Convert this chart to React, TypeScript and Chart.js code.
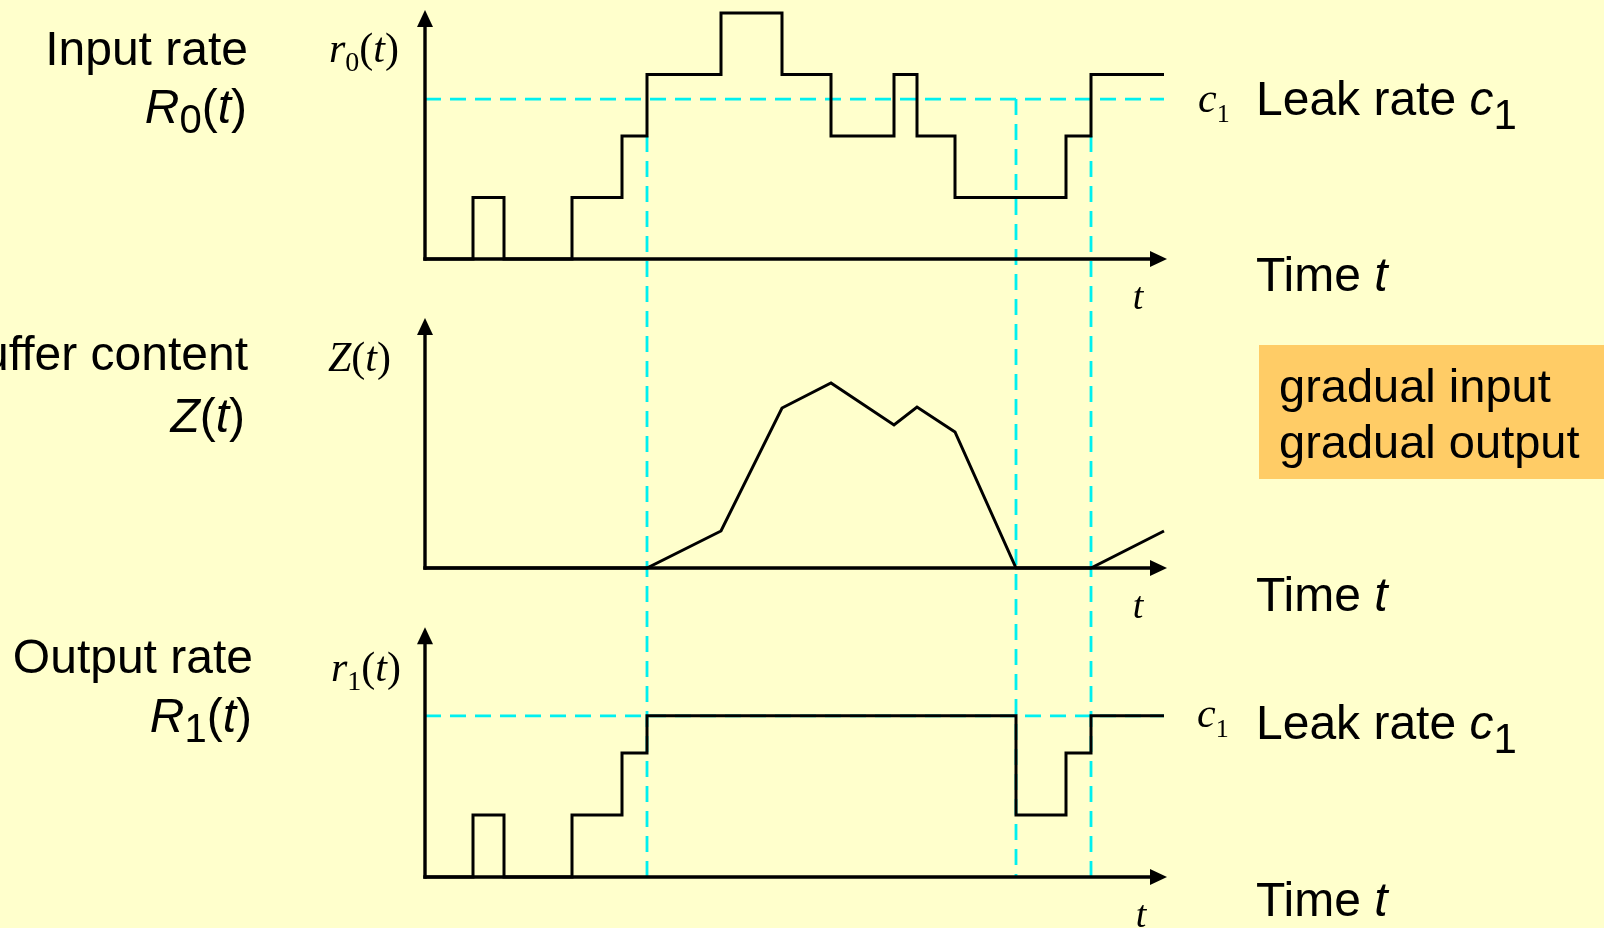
import React, { useEffect, useRef } from 'react';
import { Chart, registerables } from 'chart.js';

Chart.register(...registerables);

// ---------- data (time in t-units, rates in "levels") ----------
const r0Times = [0, 4.8, 7.9, 14.7, 19.7, 22.2, 29.6, 35.7, 40.6, 46.9, 49.2, 53.0, 64.1, 66.6, 73.9];
const r0Levels = [0, 1, 0, 1, 2, 3, 4, 3, 2, 3, 2, 1, 2, 3, 3];

const zTimes = [0, 22.2, 29.6, 35.7, 40.6, 46.9, 49.2, 53.0, 59.1, 66.6, 73.9];
const zValues = [0, 0, 3.7, 16.0, 18.5, 14.3, 16.1, 13.6, 0, 0, 3.7];

const r1Times = [0, 4.8, 7.9, 14.7, 19.7, 22.2, 59.1, 64.1, 66.6, 73.9];
const r1Levels = [0, 1, 0, 1, 2, 2.6, 1, 2, 2.6, 2.6];

const leakRate = 2.6;
const leakTimes = [0, 73.9];

const markerTimes = [22.2, 59.1, 66.6];
const markerFromLevel = [2, 2.6, 2];

const axisEndT = 74.2;
const axisTops = { y0: 4.05, yz: 25, y1: 4.03 };

// ---------- text ----------
const leftLabels = ['Input rate', 'Buffer content', 'Output rate'];
const timeLabel = 'Time ';
const leakLabel = 'Leak rate ';
const boxLines = ['gradual input', 'gradual output'];

const SANS = '"Liberation Sans", Arial, sans-serif';
const SERIF = '"Liberation Serif", "Times New Roman", serif';
const CYAN = '#00F0F0';
const BG = '#FFFFCC';

type Run = { text: string; font: string; dy?: number };

function drawRuns(ctx: CanvasRenderingContext2D, runs: Run[], x: number, y: number, align: 'left' | 'right' | 'center') {
  ctx.textBaseline = 'alphabetic';
  ctx.textAlign = 'left';
  let w = 0;
  runs.forEach((r) => {
    ctx.font = r.font;
    w += ctx.measureText(r.text).width;
  });
  let cx = align === 'left' ? x : align === 'right' ? x - w : x - w / 2;
  runs.forEach((r) => {
    ctx.font = r.font;
    ctx.fillText(r.text, cx, y + (r.dy || 0));
    cx += ctx.measureText(r.text).width;
  });
}

const sans = (size: number, italic = false) => `${italic ? 'italic ' : ''}${size}px ${SANS}`;
const serif = (size: number, italic = false) => `${italic ? 'italic ' : ''}${size}px ${SERIF}`;

const overlayPlugin = {
  id: 'overlay',
  beforeDatasetsDraw(chart: any) {
    const ctx = chart.ctx as CanvasRenderingContext2D;
    const xs = chart.scales.x;
    const y0 = chart.scales.y0;
    const y1 = chart.scales.y1;
    ctx.save();
    ctx.strokeStyle = CYAN;
    ctx.lineWidth = 2.8;
    ctx.setLineDash([16, 9]);
    markerTimes.forEach((t, i) => {
      const x = xs.getPixelForValue(t);
      ctx.beginPath();
      ctx.moveTo(x, y0.getPixelForValue(markerFromLevel[i]));
      ctx.lineTo(x, y1.getPixelForValue(0));
      ctx.stroke();
    });
    ctx.restore();
  },
  afterDatasetsDraw(chart: any) {
    const ctx = chart.ctx as CanvasRenderingContext2D;
    const xs = chart.scales.x;
    ctx.save();
    ctx.strokeStyle = '#000';
    ctx.fillStyle = '#000';
    ctx.lineWidth = 3.4;
    ctx.lineCap = 'butt';
    (['y0', 'yz', 'y1'] as const).forEach((id) => {
      const s = chart.scales[id];
      const x0 = xs.getPixelForValue(0);
      const xTip = xs.getPixelForValue(axisEndT);
      const yb = s.getPixelForValue(0);
      const yTip = s.getPixelForValue(axisTops[id]);
      ctx.beginPath();
      ctx.moveTo(x0 - 1.7, yb);
      ctx.lineTo(xTip - 12, yb);
      ctx.stroke();
      ctx.beginPath();
      ctx.moveTo(x0, yb + 1.7);
      ctx.lineTo(x0, yTip + 12);
      ctx.stroke();
      ctx.beginPath();
      ctx.moveTo(xTip, yb);
      ctx.lineTo(xTip - 17, yb - 8);
      ctx.lineTo(xTip - 17, yb + 8);
      ctx.closePath();
      ctx.fill();
      ctx.beginPath();
      ctx.moveTo(x0, yTip);
      ctx.lineTo(x0 - 8, yTip + 17);
      ctx.lineTo(x0 + 8, yTip + 17);
      ctx.closePath();
      ctx.fill();
    });
    ctx.restore();
  },
  afterDraw(chart: any) {
    const ctx = chart.ctx as CanvasRenderingContext2D;
    ctx.save();
    ctx.fillStyle = '#000';

    // left labels
    drawRuns(ctx, [{ text: leftLabels[0], font: sans(48) }], 248, 65, 'right');
    drawRuns(ctx, [
      { text: 'R', font: sans(48, true) },
      { text: '0', font: sans(40), dy: 10 },
      { text: '(', font: sans(48) },
      { text: 't', font: sans(48, true) },
      { text: ')', font: sans(48) },
    ], 247, 123, 'right');
    drawRuns(ctx, [{ text: leftLabels[1], font: sans(48) }], 248, 370, 'right');
    drawRuns(ctx, [
      { text: 'Z', font: sans(48, true) },
      { text: '(', font: sans(48) },
      { text: 't', font: sans(48, true) },
      { text: ')', font: sans(48) },
    ], 245, 432, 'right');
    drawRuns(ctx, [{ text: leftLabels[2], font: sans(48) }], 253, 673, 'right');
    drawRuns(ctx, [
      { text: 'R', font: sans(48, true) },
      { text: '1', font: sans(40), dy: 10 },
      { text: '(', font: sans(48) },
      { text: 't', font: sans(48, true) },
      { text: ')', font: sans(48) },
    ], 252, 732, 'right');

    // axis labels (serif)
    drawRuns(ctx, [
      { text: 'r', font: serif(42, true) },
      { text: '0', font: serif(28), dy: 9 },
      { text: '(', font: serif(42) },
      { text: 't', font: serif(42, true) },
      { text: ')', font: serif(42) },
    ], 329, 62, 'left');
    drawRuns(ctx, [
      { text: 'Z', font: serif(42, true) },
      { text: '(', font: serif(42) },
      { text: 't', font: serif(42, true) },
      { text: ')', font: serif(42) },
    ], 328, 371, 'left');
    drawRuns(ctx, [
      { text: 'r', font: serif(42, true) },
      { text: '1', font: serif(28), dy: 9 },
      { text: '(', font: serif(42) },
      { text: 't', font: serif(42, true) },
      { text: ')', font: serif(42) },
    ], 331, 681, 'left');

    // t under axes
    drawRuns(ctx, [{ text: 't', font: serif(38, true) }], 1138, 309, 'center');
    drawRuns(ctx, [{ text: 't', font: serif(38, true) }], 1138, 618, 'center');
    drawRuns(ctx, [{ text: 't', font: serif(38, true) }], 1141, 927, 'center');

    // c1 serif markers
    const c1Serif = [
      { text: 'c', font: serif(42, true) },
      { text: '1', font: serif(26), dy: 10 },
    ];
    drawRuns(ctx, c1Serif, 1198, 112, 'left');
    drawRuns(ctx, c1Serif, 1197, 727, 'left');

    // right labels
    const leakRuns = [
      { text: leakLabel, font: sans(48) },
      { text: 'c', font: sans(48, true) },
      { text: '1', font: sans(42), dy: 14 },
    ];
    drawRuns(ctx, leakRuns, 1256, 115, 'left');
    drawRuns(ctx, leakRuns, 1256, 739, 'left');
    const timeRuns = [
      { text: timeLabel, font: sans(48) },
      { text: 't', font: sans(48, true) },
    ];
    drawRuns(ctx, timeRuns, 1256, 291, 'left');
    drawRuns(ctx, timeRuns, 1256, 611, 'left');
    drawRuns(ctx, timeRuns, 1256, 916, 'left');

    // highlighted box
    ctx.fillStyle = '#FFCC66';
    ctx.fillRect(1259, 345, 345, 134);
    ctx.fillStyle = '#000';
    drawRuns(ctx, [{ text: boxLines[0], font: sans(47) }], 1279, 402, 'left');
    drawRuns(ctx, [{ text: boxLines[1], font: sans(47) }], 1279, 458, 'left');
    ctx.restore();
  },
};

const pts = (ts: number[], vs: number[]) => ts.map((t, i) => ({ x: t, y: vs[i] }));

export default function App() {
  const ref = useRef<HTMLCanvasElement | null>(null);

  useEffect(() => {
    document.body.style.margin = '0';
    document.body.style.background = BG;
    const canvas = ref.current;
    if (!canvas) return;
    const black = {
      borderColor: '#000',
      borderWidth: 3,
      pointRadius: 0,
      fill: false,
      tension: 0,
      borderJoinStyle: 'miter' as const,
      borderCapStyle: 'butt' as const,
    };
    const dashed = {
      borderColor: CYAN,
      borderWidth: 2.8,
      borderDash: [16, 9],
      pointRadius: 0,
      fill: false,
    };
    const chart = new Chart(canvas, {
      type: 'line',
      data: {
        datasets: [
          { label: 'r0', data: pts(r0Times, r0Levels), yAxisID: 'y0', stepped: true, ...black },
          { label: 'Z', data: pts(zTimes, zValues), yAxisID: 'yz', ...black },
          { label: 'r1', data: pts(r1Times, r1Levels), yAxisID: 'y1', stepped: true, ...black },
          { label: 'c1 top', data: pts(leakTimes, [leakRate, leakRate]), yAxisID: 'y0', ...dashed },
          { label: 'c1 bottom', data: pts(leakTimes, [leakRate, leakRate]), yAxisID: 'y1', ...dashed },
        ],
      },
      options: {
        responsive: false,
        maintainAspectRatio: false,
        animation: false,
        devicePixelRatio: 1,
        events: [],
        layout: { padding: 0 },
        plugins: { legend: { display: false }, tooltip: { enabled: false }, title: { display: false } },
        scales: {
          x: { type: 'linear', display: false, min: -42.5, max: 117.9 },
          y0: { type: 'linear', display: false, min: -(928 - 259) / 61.5, max: 259 / 61.5 },
          yz: { type: 'linear', display: false, min: -(928 - 568) / 10, max: 568 / 10 },
          y1: { type: 'linear', display: false, min: -(928 - 877) / 62, max: 877 / 62 },
        },
      },
      plugins: [overlayPlugin],
    } as any);
    return () => chart.destroy();
  }, []);

  return (
    <div style={{ position: 'fixed', left: 0, top: 0, width: 1604, height: 928, background: BG, overflow: 'hidden' }}>
      <canvas ref={ref} width={1604} height={928} style={{ display: 'block', width: 1604, height: 928 }} />
    </div>
  );
}
